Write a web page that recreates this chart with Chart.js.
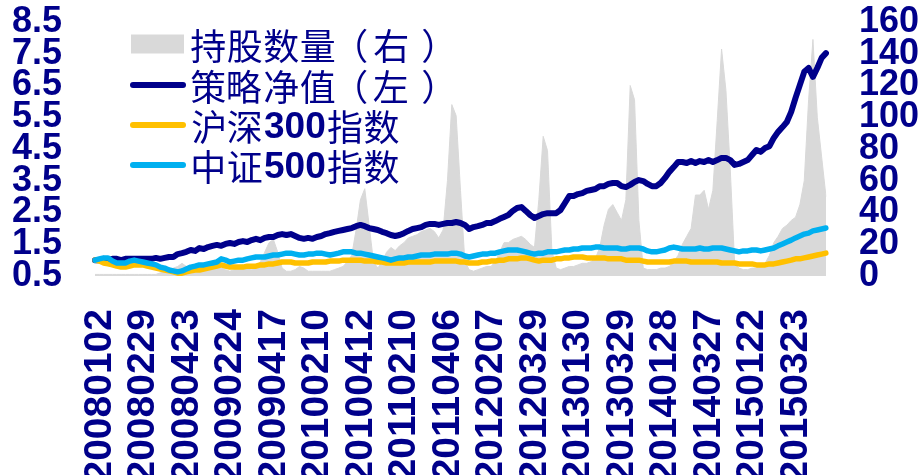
<!DOCTYPE html>
<html>
<head>
<meta charset="utf-8">
<script src="https://cdn.jsdelivr.net/npm/chart.js@4.4.1/dist/chart.umd.min.js"></script>
<style>
  html, body { margin: 0; padding: 0; background: #ffffff; }
  #wrap { width: 920px; height: 475px; overflow: hidden; }
  canvas { display: block; }
</style>
</head>
<body>
<div id="wrap"><canvas id="c" width="920" height="475"></canvas></div>
<script>
// Dates printed under the axis, one every 10 observations
const tickDates = [
  '20080102','20080229','20080423','20090224','20090417','20100210','20100412','20110210',
  '20110406','20120207','20120329','20130130','20130329','20140128','20140327','20150122','20150323'
];
const tickEvery = 10;

// Number of stocks held (right axis)
const holdings = [
  1,1,1,1,1,1,1,1,1,1,
  1,1,1,1,1,2,3,3,5,6,
  8,6,4,4,3,4,5,6,6,5,
  4,3,4,5,6,5,4,5,9,15,
  21,23,15,5,3,3,4,6,5,3,
  3,3,3,3,3,4,5,6,9,13,
  29,48,55,32,9,5,9,15,18,16,
  19,21,24,25,26,28,29,30,28,24,
  29,60,108,101,54,9,4,3,4,5,
  6,6,9,15,21,21,23,24,25,23,
  20,18,48,88,79,16,5,4,5,6,
  6,7,8,8,9,11,18,32,42,45,
  40,35,48,120,111,35,5,4,4,4,
  5,5,6,9,13,20,25,30,51,51,
  54,42,54,98,143,117,67,8,5,4,
  4,5,5,6,8,13,21,25,30,32,
  35,37,45,60,111,149,100,75,50
];

// Strategy net value (left axis)
const strategyNav = [
  1.00,1.00,1.04,1.00,1.04,1.04,1.00,1.04,1.04,1.04,
  1.04,1.04,1.04,1.04,1.07,1.04,1.07,1.10,1.10,1.19,
  1.22,1.26,1.32,1.29,1.38,1.35,1.41,1.45,1.48,1.45,
  1.51,1.54,1.51,1.57,1.60,1.57,1.63,1.67,1.63,1.70,
  1.73,1.73,1.79,1.82,1.79,1.82,1.76,1.70,1.67,1.70,
  1.67,1.73,1.76,1.82,1.85,1.89,1.92,1.95,1.98,2.01,
  2.07,2.11,2.07,2.01,1.98,1.95,1.89,1.85,1.79,1.76,
  1.79,1.85,1.92,1.98,2.01,2.04,2.11,2.14,2.14,2.11,
  2.14,2.17,2.17,2.20,2.17,2.11,1.98,2.04,2.07,2.11,
  2.17,2.17,2.23,2.30,2.36,2.42,2.55,2.64,2.67,2.55,
  2.42,2.33,2.39,2.45,2.48,2.48,2.48,2.58,2.80,3.02,
  3.02,3.08,3.11,3.18,3.21,3.24,3.33,3.33,3.40,3.43,
  3.43,3.33,3.30,3.37,3.46,3.52,3.49,3.40,3.33,3.33,
  3.43,3.59,3.78,3.93,4.09,4.09,4.06,4.12,4.06,4.12,
  4.09,4.15,4.09,4.15,4.22,4.22,4.15,4.00,4.03,4.09,
  4.15,4.31,4.47,4.41,4.53,4.59,4.85,5.04,5.19,5.35,
  5.67,6.11,6.52,6.93,7.05,6.77,7.05,7.37,7.52
];

// CSI 300 index, rebased to 1 (left axis)
const csi300 = [
  1.00,0.97,0.91,0.88,0.85,0.81,0.78,0.78,0.81,0.85,
  0.85,0.85,0.81,0.78,0.75,0.72,0.69,0.66,0.63,0.59,
  0.59,0.63,0.66,0.69,0.69,0.72,0.75,0.78,0.81,0.85,
  0.81,0.78,0.78,0.78,0.78,0.81,0.81,0.81,0.85,0.85,
  0.88,0.88,0.91,0.94,0.94,0.94,0.91,0.91,0.91,0.91,
  0.94,0.94,0.94,0.94,0.97,0.97,0.97,1.00,1.00,1.00,
  1.00,1.00,0.97,0.97,0.97,0.94,0.94,0.91,0.91,0.91,
  0.91,0.91,0.94,0.94,0.94,0.94,0.94,0.94,0.97,0.97,
  0.97,0.97,0.97,0.97,0.94,0.94,0.91,0.91,0.91,0.94,
  0.94,0.97,0.97,1.00,1.00,1.04,1.04,1.04,1.07,1.07,
  1.04,1.00,0.97,1.00,1.00,1.00,1.04,1.04,1.07,1.07,
  1.10,1.10,1.10,1.07,1.07,1.07,1.07,1.07,1.04,1.04,
  1.04,1.04,1.00,1.00,1.00,1.00,0.97,0.94,0.94,0.94,
  0.94,0.94,0.94,0.97,0.97,0.97,0.97,0.94,0.94,0.94,
  0.94,0.94,0.94,0.94,0.91,0.91,0.91,0.91,0.88,0.88,
  0.88,0.88,0.85,0.85,0.85,0.88,0.88,0.91,0.94,0.97,
  1.00,1.04,1.04,1.07,1.10,1.13,1.16,1.19,1.22
];

// CSI 500 index, rebased to 1 (left axis)
const csi500 = [
  1.00,1.04,1.07,1.07,0.97,0.91,0.91,0.91,0.97,1.00,
  0.97,0.94,0.91,0.88,0.85,0.78,0.75,0.69,0.66,0.63,
  0.66,0.72,0.78,0.81,0.85,0.85,0.88,0.91,0.94,1.04,
  1.00,0.94,0.97,1.00,1.00,1.04,1.07,1.10,1.10,1.10,
  1.13,1.16,1.16,1.19,1.22,1.22,1.19,1.16,1.16,1.19,
  1.19,1.22,1.22,1.19,1.16,1.19,1.22,1.26,1.26,1.26,
  1.22,1.22,1.19,1.16,1.13,1.10,1.07,1.04,1.00,1.04,
  1.07,1.07,1.10,1.10,1.13,1.16,1.16,1.16,1.19,1.19,
  1.19,1.19,1.22,1.22,1.19,1.13,1.10,1.13,1.16,1.19,
  1.19,1.22,1.22,1.26,1.29,1.32,1.32,1.32,1.29,1.26,
  1.22,1.19,1.22,1.22,1.26,1.26,1.26,1.29,1.32,1.32,
  1.35,1.35,1.38,1.38,1.38,1.41,1.41,1.38,1.38,1.38,
  1.38,1.35,1.35,1.38,1.38,1.38,1.35,1.29,1.26,1.26,
  1.29,1.32,1.38,1.41,1.38,1.35,1.35,1.35,1.35,1.38,
  1.35,1.35,1.38,1.38,1.38,1.35,1.32,1.29,1.26,1.29,
  1.29,1.32,1.32,1.29,1.32,1.35,1.38,1.45,1.51,1.57,
  1.63,1.70,1.76,1.82,1.85,1.92,1.95,1.98,2.01
];

const seriesNames = ['持股数量（右）', '策略净值（左）', '沪深300指数', '中证500指数'];

const NAVY = '#00008B';
const GREY = '#D9D9D9';
const GOLD = '#FFC000';
const SKY = '#00B0F0';
const LATIN = '"Liberation Sans", Arial, sans-serif';
const CJK = '"Noto Sans CJK SC", "Noto Sans CJK JP", sans-serif';

// Category labels: a date every tickEvery observations
const categories = strategyNav.map((_, i) => (i % tickEvery === 0 ? (tickDates[i / tickEvery] || '') : ''));

// Key in the upper-left corner of the plot; digits bold, each Chinese glyph
// centred (by its ink) inside a fixed-width cell
const seriesKey = {
  id: 'seriesKey',
  afterDraw(chart) {
    const ctx = chart.ctx;
    const area = chart.chartArea;
    const x0 = area.left + 36;
    const markW = 53;
    const textX = x0 + 59;
    const cell = 36.5;
    const rows = [area.top + 22, area.top + 63, area.top + 103, area.top + 143];
    ctx.save();
    chart.data.datasets.forEach((ds, k) => {
      const y = rows[k];
      if (ds.fill) {
        ctx.fillStyle = ds.backgroundColor;
        ctx.fillRect(x0, y - 9.5, markW, 19);
      } else {
        ctx.strokeStyle = ds.borderColor;
        ctx.lineWidth = 6;
        ctx.lineCap = 'round';
        ctx.beginPath();
        ctx.moveTo(x0 + 2, y);
        ctx.lineTo(x0 + markW - 1, y);
        ctx.stroke();
      }
      let tx = textX;
      ctx.fillStyle = NAVY;
      ctx.textBaseline = 'middle';
      ctx.textAlign = 'left';
      const runs = ds.label.match(/[0-9A-Za-z.]+|[^0-9A-Za-z.]+/g) || [];
      runs.forEach(r => {
        if (/^[0-9A-Za-z.]+$/.test(r)) {
          ctx.font = 'bold 37px ' + LATIN;
          ctx.fillText(r, tx + 1, y + 3);
          tx += ctx.measureText(r).width + 2;
        } else {
          ctx.font = '36px ' + CJK;
          for (const ch of r) {
            const m = ctx.measureText(ch);
            const inkMid = (m.actualBoundingBoxRight - m.actualBoundingBoxLeft) / 2;
            const shift = ch === '（' ? 8 : 0;
            ctx.fillText(ch, tx + cell / 2 + shift - inkMid, y + 2);
            tx += cell;
          }
        }
      });
    });
    ctx.restore();
  }
};

const noEdgePadding = s => {
  s.paddingTop = 0; s.paddingBottom = 0; s.paddingLeft = 0; s.paddingRight = 0;
};

new Chart(document.getElementById('c'), {
  type: 'line',
  data: {
    labels: categories,
    datasets: [
      {
        label: seriesNames[0], data: holdings, yAxisID: 'yR',
        fill: 'origin', backgroundColor: GREY, borderColor: GREY, borderWidth: 1,
        pointRadius: 0, tension: 0, order: 4
      },
      {
        label: seriesNames[1], data: strategyNav, yAxisID: 'yL', fill: false,
        borderColor: NAVY, borderWidth: 6, pointRadius: 0, tension: 0, order: 3,
        borderJoinStyle: 'round', borderCapStyle: 'round'
      },
      {
        label: seriesNames[2], data: csi300, yAxisID: 'yL', fill: false,
        borderColor: GOLD, borderWidth: 5.5, pointRadius: 0, tension: 0, order: 2,
        borderJoinStyle: 'round', borderCapStyle: 'round'
      },
      {
        label: seriesNames[3], data: csi500, yAxisID: 'yL', fill: false,
        borderColor: SKY, borderWidth: 5.5, pointRadius: 0, tension: 0, order: 1,
        borderJoinStyle: 'round', borderCapStyle: 'round'
      }
    ]
  },
  options: {
    responsive: false,
    animation: false,
    events: [],
    layout: { padding: { top: 22, left: 0, right: 0, bottom: 0 } },
    plugins: { legend: { display: false }, tooltip: { enabled: false } },
    scales: {
      x: {
        type: 'category',
        grid: { display: false, drawTicks: false },
        border: { display: false },
        ticks: {
          autoSkip: false, minRotation: 90, maxRotation: 90, padding: 33, labelOffset: 5,
          color: NAVY, font: { family: LATIN, size: 39, weight: 'bold' },
          callback: (v, i) => categories[i]
        },
        afterFit: s => { noEdgePadding(s); s.height = 199; }
      },
      yL: {
        position: 'left', min: 0.5, max: 8.5,
        grid: { display: false, drawTicks: false },
        border: { display: false },
        ticks: {
          autoSkip: false, stepSize: 1, padding: 33, color: NAVY,
          font: { family: LATIN, size: 36, weight: 'bold' },
          callback: v => Number(v).toFixed(1)
        },
        afterFit: s => { noEdgePadding(s); s.width = 95; }
      },
      yR: {
        position: 'right', min: 0, max: 160,
        grid: { display: false, drawTicks: false },
        border: { display: false },
        ticks: {
          autoSkip: false, stepSize: 20, padding: 33, color: NAVY,
          font: { family: LATIN, size: 36, weight: 'bold' },
          callback: v => String(Math.round(v))
        },
        afterFit: s => { noEdgePadding(s); s.width = 94; }
      }
    }
  },
  plugins: [seriesKey]
});
</script>
</body>
</html>
